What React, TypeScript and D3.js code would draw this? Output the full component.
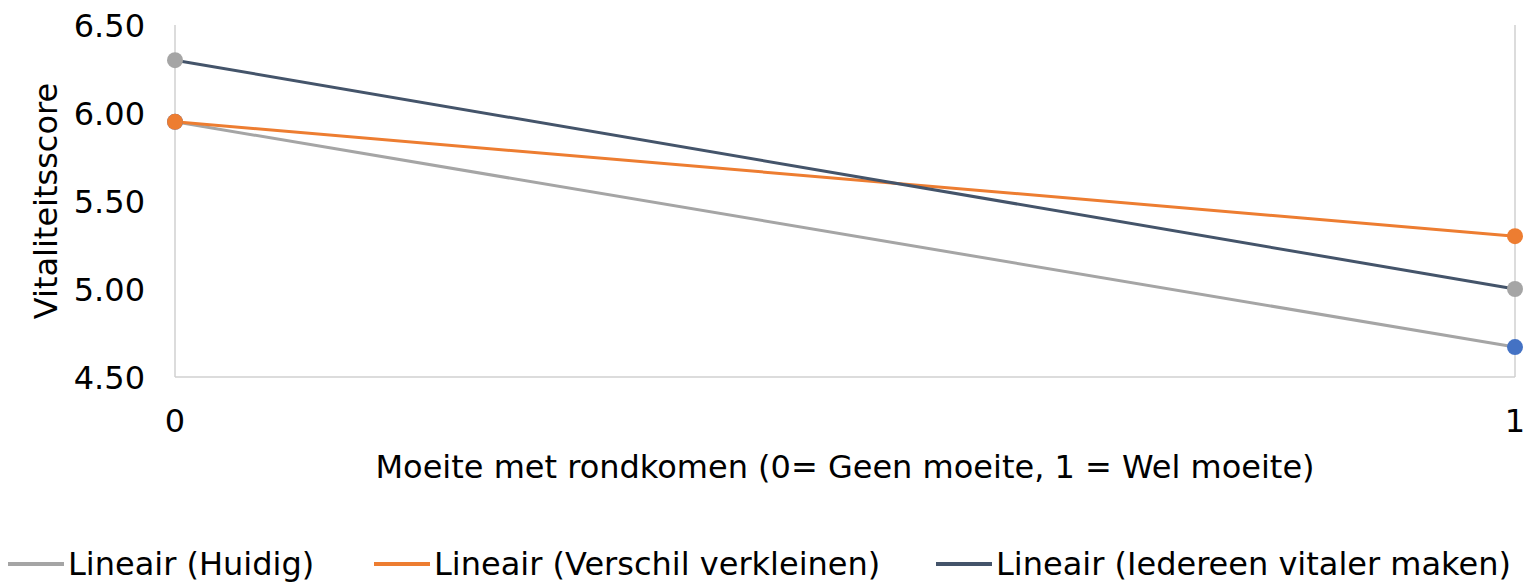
import React, { useRef, useEffect } from 'react';
import * as d3 from 'd3';

// x: moeite met rondkomen (0 / 1)
const xValues = [0, 1];
const yTicks = [4.5, 5.0, 5.5, 6.0, 6.5];

// series names and values at x=0 and x=1
const seriesNames = ['Huidig', 'Verschil verkleinen', 'Iedereen vitaler maken'];
const huidig = [5.95, 4.67];
const verschil = [5.95, 5.3];
const iedereen = [6.3, 5.0];

const markerColors = ['#4472C4', '#ED7D31', '#A5A5A5'];
const trendColors = ['#A5A5A5', '#ED7D31', '#44546A'];

const App = () => {
  const ref = useRef<SVGSVGElement>(null);

  useEffect(() => {
    const svg = d3.select(ref.current);
    svg.selectAll('*').remove();

    const width = 1530;
    const height = 584;
    const font = '"DejaVu Sans", Verdana, sans-serif';

    const x = d3.scaleLinear().domain([0, 1]).range([175, 1515]);
    const y = d3.scaleLinear().domain([4.5, 6.5]).range([377, 25]);

    svg.attr('width', width).attr('height', height);

    // axis lines / vertical gridlines
    svg.append('line')
      .attr('x1', x(0)).attr('x2', x(1)).attr('y1', y(4.5)).attr('y2', y(4.5))
      .attr('stroke', '#D0D0D0').attr('stroke-width', 1.5);
    svg.selectAll('line.vgrid').data(xValues).join('line').attr('class', 'vgrid')
      .attr('x1', d => x(d)).attr('x2', d => x(d)).attr('y1', y(6.5)).attr('y2', y(4.5))
      .attr('stroke', '#D0D0D0').attr('stroke-width', 1.5);

    // y tick labels
    svg.selectAll('text.ytick').data(yTicks).join('text').attr('class', 'ytick')
      .attr('x', 145).attr('y', d => y(d)).attr('dy', '0.36em')
      .attr('text-anchor', 'end').style('font-family', font).style('font-size', '32px')
      .style('fill', '#000').text(d => d.toFixed(2));

    // x tick labels
    svg.selectAll('text.xtick').data(xValues).join('text').attr('class', 'xtick')
      .attr('x', d => x(d)).attr('y', 432)
      .attr('text-anchor', 'middle').style('font-family', font).style('font-size', '32px')
      .style('fill', '#000').text(d => String(d));

    // axis titles
    svg.append('text')
      .attr('x', 845).attr('y', 478).attr('text-anchor', 'middle')
      .style('font-family', font).style('font-size', '32px').style('fill', '#000')
      .text('Moeite met rondkomen (0= Geen moeite, 1 = Wel moeite)');
    svg.append('text')
      .attr('transform', `translate(57,${(y(6.5) + y(4.5)) / 2}) rotate(-90)`)
      .attr('text-anchor', 'middle')
      .style('font-family', font).style('font-size', '32px').style('fill', '#000')
      .text('Vitaliteitsscore');

    const data = [huidig, verschil, iedereen];
    const line = d3.line<number>().x((d, i) => x(xValues[i])).y(d => y(d));

    // linear trendlines (two points, so trend = segment)
    svg.selectAll('path.trend').data(data).join('path').attr('class', 'trend')
      .attr('d', d => line(d))
      .attr('fill', 'none').attr('stroke', (d, i) => trendColors[i]).attr('stroke-width', 3);

    // markers
    data.forEach((vals, si) => {
      svg.selectAll(`circle.m${si}`).data(vals).join('circle').attr('class', `m${si}`)
        .attr('cx', (d, i) => x(xValues[i])).attr('cy', d => y(d)).attr('r', 8)
        .attr('fill', markerColors[si]);
    });

    // legend
    const legendX = [8, 374, 936];
    const lg = svg.selectAll('g.legend').data(seriesNames).join('g').attr('class', 'legend')
      .attr('transform', (d, i) => `translate(${legendX[i]},564)`);
    lg.append('line').attr('x1', 0).attr('x2', 56).attr('y1', 0).attr('y2', 0)
      .attr('stroke', (d, i) => trendColors[i]).attr('stroke-width', 4);
    lg.append('text').attr('x', 60).attr('y', 11)
      .style('font-family', font).style('font-size', '32px').style('fill', '#000')
      .text(d => `Lineair (${d})`);
  }, []);

  return <svg ref={ref} style={{ position: 'absolute', left: 0, top: 0, background: '#fff' }} />;
};

export default App;
